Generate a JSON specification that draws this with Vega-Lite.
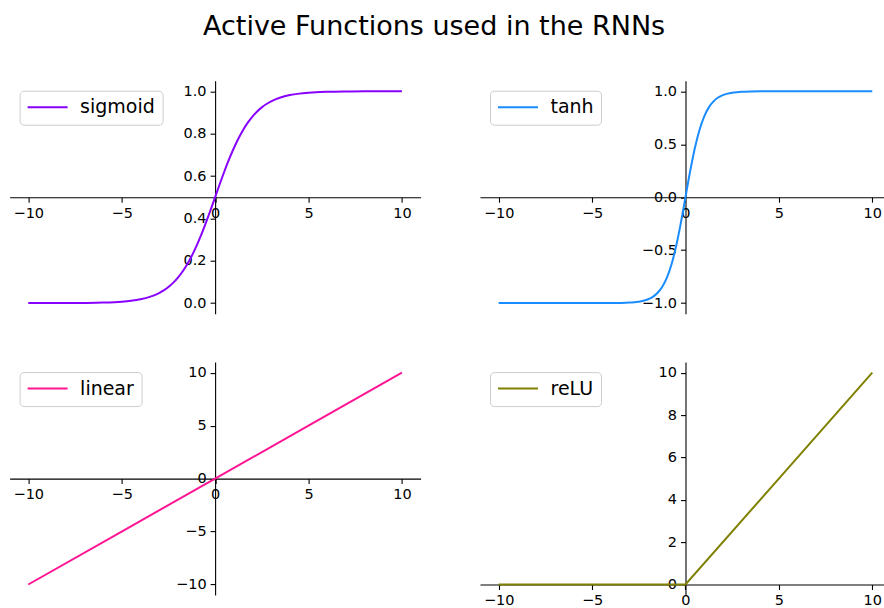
{
  "$schema": "https://vega.github.io/schema/vega-lite/v6.json",
  "autosize": {"type": "pad"},
  "padding": {"left": 9.6, "top": 12.7, "right": 0, "bottom": 0},
  "background": "white",
  "title": {"text": "Active Functions used in the RNNs", "fontSize": 27, "font": "DejaVu Sans", "fontWeight": "normal", "anchor": "start", "dx": 193.4, "offset": 18.4, "baseline": "alphabetic", "color": "black"},
  "datasets": {
    "sigmoid": [
      {"x": -10, "y": 0.00005, "fn": "sigmoid"}, {"x": -9, "y": 0.00012, "fn": "sigmoid"}, {"x": -8, "y": 0.00034, "fn": "sigmoid"}, {"x": -7, "y": 0.00091, "fn": "sigmoid"}, {"x": -6, "y": 0.00247, "fn": "sigmoid"}, {"x": -5, "y": 0.00669, "fn": "sigmoid"}, {"x": -4.5, "y": 0.01099, "fn": "sigmoid"}, {"x": -4, "y": 0.01799, "fn": "sigmoid"}, {"x": -3.5, "y": 0.02931, "fn": "sigmoid"}, {"x": -3, "y": 0.04743, "fn": "sigmoid"}, {"x": -2.75, "y": 0.06009, "fn": "sigmoid"}, {"x": -2.5, "y": 0.07586, "fn": "sigmoid"}, {"x": -2.25, "y": 0.09535, "fn": "sigmoid"}, {"x": -2, "y": 0.1192, "fn": "sigmoid"}, {"x": -1.75, "y": 0.148, "fn": "sigmoid"}, {"x": -1.5, "y": 0.1824, "fn": "sigmoid"}, {"x": -1.25, "y": 0.2227, "fn": "sigmoid"}, {"x": -1, "y": 0.2689, "fn": "sigmoid"}, {"x": -0.75, "y": 0.3208, "fn": "sigmoid"}, {"x": -0.5, "y": 0.3775, "fn": "sigmoid"}, {"x": -0.25, "y": 0.4378, "fn": "sigmoid"}, {"x": 0, "y": 0.5, "fn": "sigmoid"}, {"x": 0.25, "y": 0.5622, "fn": "sigmoid"}, {"x": 0.5, "y": 0.6225, "fn": "sigmoid"}, {"x": 0.75, "y": 0.6792, "fn": "sigmoid"}, {"x": 1, "y": 0.7311, "fn": "sigmoid"}, {"x": 1.25, "y": 0.7773, "fn": "sigmoid"}, {"x": 1.5, "y": 0.8176, "fn": "sigmoid"}, {"x": 1.75, "y": 0.852, "fn": "sigmoid"}, {"x": 2, "y": 0.8808, "fn": "sigmoid"}, {"x": 2.25, "y": 0.9047, "fn": "sigmoid"}, {"x": 2.5, "y": 0.9241, "fn": "sigmoid"}, {"x": 2.75, "y": 0.9399, "fn": "sigmoid"}, {"x": 3, "y": 0.9526, "fn": "sigmoid"}, {"x": 3.5, "y": 0.9707, "fn": "sigmoid"}, {"x": 4, "y": 0.982, "fn": "sigmoid"}, {"x": 4.5, "y": 0.989, "fn": "sigmoid"}, {"x": 5, "y": 0.9933, "fn": "sigmoid"}, {"x": 6, "y": 0.9975, "fn": "sigmoid"}, {"x": 7, "y": 0.9991, "fn": "sigmoid"}, {"x": 8, "y": 0.9997, "fn": "sigmoid"}, {"x": 9, "y": 0.9999, "fn": "sigmoid"}, {"x": 10, "y": 1.0, "fn": "sigmoid"}
    ],
    "tanh": [
      {"x": -10, "y": -1.0, "fn": "tanh"}, {"x": -8, "y": -1.0, "fn": "tanh"}, {"x": -6, "y": -1.0, "fn": "tanh"}, {"x": -5, "y": -0.9999, "fn": "tanh"}, {"x": -4, "y": -0.9993, "fn": "tanh"}, {"x": -3.5, "y": -0.9982, "fn": "tanh"}, {"x": -3, "y": -0.9951, "fn": "tanh"}, {"x": -2.75, "y": -0.9918, "fn": "tanh"}, {"x": -2.5, "y": -0.9866, "fn": "tanh"}, {"x": -2.25, "y": -0.978, "fn": "tanh"}, {"x": -2, "y": -0.964, "fn": "tanh"}, {"x": -1.75, "y": -0.9414, "fn": "tanh"}, {"x": -1.5, "y": -0.9051, "fn": "tanh"}, {"x": -1.25, "y": -0.8483, "fn": "tanh"}, {"x": -1, "y": -0.7616, "fn": "tanh"}, {"x": -0.75, "y": -0.6351, "fn": "tanh"}, {"x": -0.5, "y": -0.4621, "fn": "tanh"}, {"x": -0.25, "y": -0.2449, "fn": "tanh"}, {"x": 0, "y": 0, "fn": "tanh"}, {"x": 0.25, "y": 0.2449, "fn": "tanh"}, {"x": 0.5, "y": 0.4621, "fn": "tanh"}, {"x": 0.75, "y": 0.6351, "fn": "tanh"}, {"x": 1, "y": 0.7616, "fn": "tanh"}, {"x": 1.25, "y": 0.8483, "fn": "tanh"}, {"x": 1.5, "y": 0.9051, "fn": "tanh"}, {"x": 1.75, "y": 0.9414, "fn": "tanh"}, {"x": 2, "y": 0.964, "fn": "tanh"}, {"x": 2.25, "y": 0.978, "fn": "tanh"}, {"x": 2.5, "y": 0.9866, "fn": "tanh"}, {"x": 2.75, "y": 0.9918, "fn": "tanh"}, {"x": 3, "y": 0.9951, "fn": "tanh"}, {"x": 3.5, "y": 0.9982, "fn": "tanh"}, {"x": 4, "y": 0.9993, "fn": "tanh"}, {"x": 5, "y": 0.9999, "fn": "tanh"}, {"x": 6, "y": 1.0, "fn": "tanh"}, {"x": 8, "y": 1.0, "fn": "tanh"}, {"x": 10, "y": 1.0, "fn": "tanh"}
    ],
    "linear": [
      {"x": -10, "y": -10, "fn": "linear"}, {"x": -5, "y": -5, "fn": "linear"}, {"x": 0, "y": 0, "fn": "linear"}, {"x": 5, "y": 5, "fn": "linear"}, {"x": 10, "y": 10, "fn": "linear"}
    ],
    "relu": [
      {"x": -10, "y": 0, "fn": "reLU"}, {"x": -5, "y": 0, "fn": "reLU"}, {"x": 0, "y": 0, "fn": "reLU"}, {"x": 5, "y": 5, "fn": "reLU"}, {"x": 10, "y": 10, "fn": "reLU"}
    ]
  },
  "columns": 2,
  "spacing": {"row": 48.4, "column": 59.4},
  "bounds": "flush",
  "resolve": {"scale": {"color": "independent", "x": "independent", "y": "independent"}, "legend": {"color": "independent"}},
  "concat": [
    {
      "width": 411, "height": 233,
      "data": {"name": "sigmoid"},
      "mark": {"type": "line", "strokeWidth": 2, "interpolate": "monotone"},
      "encoding": {
        "x": {"field": "x", "type": "quantitative", "scale": {"domain": [-11, 11], "nice": false, "zero": false}, "axis": {"values": [-10, -5, 0, 5, 10], "offset": -116.5, "format": "d"}},
        "y": {"field": "y", "type": "quantitative", "scale": {"domain": [-0.05, 1.05], "nice": false, "zero": false}, "axis": {"values": [0, 0.2, 0.4, 0.6, 0.8, 1.0], "offset": -205.5, "format": ".1f"}},
        "color": {"field": "fn", "type": "nominal", "scale": {"domain": ["sigmoid"], "range": ["#8800ff"]}}
      }
    },
    {
      "width": 403.5, "height": 233,
      "data": {"name": "tanh"},
      "mark": {"type": "line", "strokeWidth": 2, "interpolate": "monotone"},
      "encoding": {
        "x": {"field": "x", "type": "quantitative", "scale": {"domain": [-11, 10.6], "nice": false, "zero": false}, "axis": {"values": [-10, -5, 0, 5, 10], "offset": -116.5, "format": "d"}},
        "y": {"field": "y", "type": "quantitative", "scale": {"domain": [-1.1, 1.1], "nice": false, "zero": false}, "axis": {"values": [-1.0, -0.5, 0, 0.5, 1.0], "offset": -205.5, "format": ".1f"}},
        "color": {"field": "fn", "type": "nominal", "scale": {"domain": ["tanh"], "range": ["#1a8cff"]}}
      }
    },
    {
      "width": 411, "height": 233,
      "data": {"name": "linear"},
      "mark": {"type": "line", "strokeWidth": 2},
      "encoding": {
        "x": {"field": "x", "type": "quantitative", "scale": {"domain": [-11, 11], "nice": false, "zero": false}, "axis": {"values": [-10, -5, 0, 5, 10], "offset": -116.5, "format": "d"}},
        "y": {"field": "y", "type": "quantitative", "scale": {"domain": [-11, 11], "nice": false, "zero": false}, "axis": {"values": [-10, -5, 0, 5, 10], "offset": -205.5, "format": "d"}},
        "color": {"field": "fn", "type": "nominal", "scale": {"domain": ["linear"], "range": ["#ff1493"]}}
      }
    },
    {
      "width": 403.5, "height": 233,
      "data": {"name": "relu"},
      "mark": {"type": "line", "strokeWidth": 2},
      "encoding": {
        "x": {"field": "x", "type": "quantitative", "scale": {"domain": [-11, 10.6], "nice": false, "zero": false}, "axis": {"values": [-10, -5, 0, 5, 10], "offset": -10.6, "format": "d"}},
        "y": {"field": "y", "type": "quantitative", "scale": {"domain": [-0.5, 10.5], "nice": false, "zero": false}, "axis": {"values": [0, 2, 4, 6, 8, 10], "offset": -205.5, "format": "d"}},
        "color": {"field": "fn", "type": "nominal", "scale": {"domain": ["reLU"], "range": ["#808000"]}}
      }
    }
  ],
  "config": {
    "view": {"stroke": null},
    "font": "DejaVu Sans",
    "axis": {"domainColor": "black", "tickColor": "black", "labelColor": "black", "labelFont": "DejaVu Sans", "labelFontSize": 14.5, "tickSize": 5, "labelPadding": 4, "grid": false, "title": null, "domainWidth": 1.1, "tickWidth": 1.1, "labelFlush": false, "labelOverlap": false, "labelBound": false, "zindex": 1},
    "legend": {"orient": "top-left", "offset": 10, "padding": 7, "strokeColor": "#cccccc", "fillColor": "rgba(255,255,255,0.8)", "cornerRadius": 4, "symbolType": "stroke", "symbolSize": 1600, "symbolStrokeWidth": 2, "labelFontSize": 19, "labelFont": "DejaVu Sans", "labelColor": "black", "labelOffset": 11.5, "clipHeight": 19, "title": null}
  }
}
